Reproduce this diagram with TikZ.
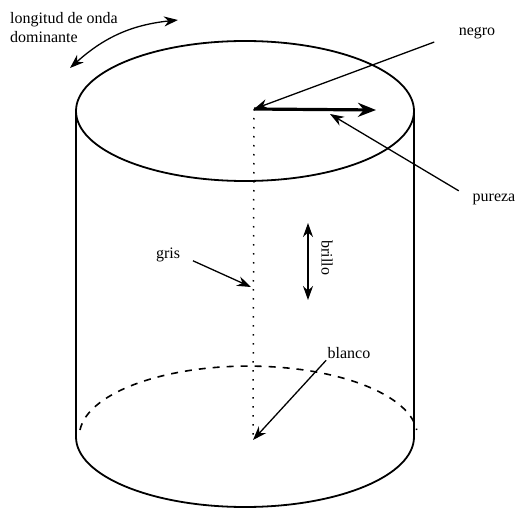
\documentclass[tikz,border=0pt]{standalone}
\usepackage{fontspec}
\setmainfont{Liberation Serif}
\usepackage{tikz}
\usetikzlibrary{arrows.meta, positioning, calc}
\tikzstyle{contorno} = [line width=1.8pt, black]
\tikzstyle{flecha} = [line width=1.3pt, -{Stealth[length=14pt, width=10pt]}]

\begin{document}
\begin{tikzpicture}[
		x=1pt, y=-1pt,
		every node/.style={font=\fontsize{16}{19}\selectfont, inner sep=0pt},
		etiqueta/.style={align=left},
		eje/.style={line width=1.5pt, dash pattern=on 1.5pt off 7.5pt},
		oculto/.style={line width=1.6pt, dash pattern=on 7pt off 7pt},
		pureza/.style={line width=3.2pt, -{Stealth[length=18pt, width=14pt]}},
		doble/.style={line width=1.3pt, {Stealth[length=14pt, width=10pt]}-{Stealth[length=14pt, width=10pt]}}
		]
		\useasboundingbox (0,0) rectangle (519,508);
		
		% Cilindro
		\draw[contorno] (245,111) ellipse [x radius=169, y radius=70];
		\draw[contorno] (76,111) -- (76,437);
		\draw[contorno] (414,111) -- (414,437);
		\draw[contorno] (414,437) arc [start angle=0, end angle=180, x radius=169, y radius=70];
		\draw[oculto] (80,430) arc [start angle=185, end angle=355, x radius=169, y radius=70];
		
		% Puntos
		\coordinate (negroPt) at (254,109);
		\coordinate (blancoPt) at (253,440);
		\coordinate (grisPt) at (251,287);
		\coordinate (purezaPt) at (330,114);
		\coordinate (radio) at (376,110);
		\coordinate (brilloSup) at (308,223);
		\coordinate (brilloInf) at (308,300);
		\coordinate (onda1) at (70,68);
		\coordinate (onda2) at (178,20);
		
		% Nodos
		\node[etiqueta, anchor=north west] (longitud) at (10,12) {longitud de onda\\dominante};
		\node (negro) at (477,33) {negro};
		\node (purezaTxt) at (494,199) {pureza};
		\node (gris) at (168,255) {gris};
		\node (blanco) at (349,353) {blanco};
		\node[rotate=-90] (brillo) at (327,258) {brillo};
		
		% Flechas
		\draw[eje] (negroPt) -- (253,437);
		\draw[pureza] (negroPt) -- (radio);
		\draw[flecha, shorten <=26pt] (negro.west) -- (negroPt);
		\draw[flecha, shorten <=16pt] (purezaTxt.west) -- (purezaPt);
		\draw[flecha, shorten <=14pt] (gris.east) -- (grisPt);
		\draw[flecha, shorten <=2pt] (blanco.south west) -- (blancoPt);
		\draw[doble] (brilloSup) -- (brilloInf);
		\draw[doble] (onda1) to[bend left=18] (onda2);
		
	\end{tikzpicture}
\end{document}
